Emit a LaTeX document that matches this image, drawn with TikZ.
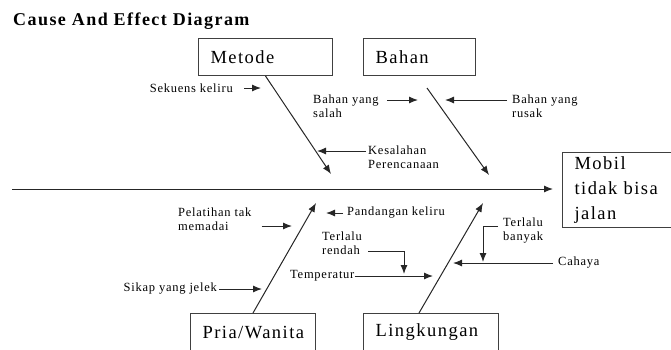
\documentclass[tikz,border=0pt]{standalone}
\usepackage{fontspec}
\setmainfont{Liberation Serif}
\newfontfamily\labfont[LetterSpace=6]{Liberation Serif}
\newfontfamily\catfont[LetterSpace=8]{Liberation Serif}
\newfontfamily\titlefont[LetterSpace=8]{Liberation Serif}
\usetikzlibrary{arrows.meta,positioning}
\tikzset{
  bone/.style={draw=black!80, line width=0.8pt},
  arr/.style={-{Latex[length=9pt,width=7pt]}, draw=black!85, line width=1pt},
  lab/.style={font=\labfont\fontsize{12.5}{14}\selectfont, inner sep=2pt,
              align=left},
  cat/.style={draw=black!75, line width=1pt, anchor=north west, align=left,
              inner xsep=12pt, font=\catfont\fontsize{18.5}{25}\selectfont},
}

\begin{document}
\begin{tikzpicture}[x=1pt,y=-1pt]

\clip (0,0) rectangle (671,349);

\node[font=\titlefont\bfseries\fontsize{18}{20}\selectfont, anchor=base west,
      inner sep=0pt] (title) at (13,25) {Cause And Effect Diagram};

% category boxes
\node[cat, text width=110pt, minimum height=37pt] (metode) at (198,38) {Metode};
\node[cat, text width=88pt, minimum height=37pt] (bahan) at (363,38) {Bahan};
\node[cat, text width=86pt, minimum height=75pt] (mobil) at (562,152)
  {Mobil\\tidak bisa\\jalan};
\node[cat, text width=101pt, minimum height=38pt] (pria) at (190,313)
  {Pria/Wanita};
\node[cat, text width=111pt, minimum height=38pt] (lingk) at (363,313)
  {Lingkungan};

% spine and bones
\coordinate (tail) at (12,189);
\draw[arr] (tail) -- ([xshift=-9pt]mobil.west |- tail);

\coordinate (metodeT) at (331,174);
\draw[arr] (metode.south) -- (metodeT);
\coordinate (bahanS) at (427,88);
\coordinate (bahanT) at (489,175);
\draw[arr] (bahanS) -- (bahanT);
\coordinate (priaT) at (316,203);
\draw[arr] (pria.north) -- (priaT);
\coordinate (lingkT) at (483,203);
\draw[arr] ([xshift=-12pt]lingk.north) -- (lingkT);

% Metode
\node[lab, anchor=east] (sekuens) at (235,88) {Sekuens keliru};
\coordinate (sekuensT) at (261,88);
\draw[arr] ([xshift=9pt]sekuens.east) -- (sekuensT);

\node[lab, anchor=north west] (kesalahan) at (366,144) {Kesalahan\\Perencanaan};
\coordinate (kesalahanT) at (317,151);
\draw[arr] ([shift={(0,7)}]kesalahan.north west) -- (kesalahanT);

% Bahan
\node[lab, anchor=north west] (salah) at (311,93) {Bahan yang\\salah};
\coordinate (salahT) at (418,100);
\draw[arr] ([shift={(6,7)}]salah.north east) -- (salahT);

\node[lab, anchor=north west] (rusak) at (510,93) {Bahan yang\\rusak};
\coordinate (rusakT) at (445,100);
\draw[arr] ([shift={(-3,7)}]rusak.north west) -- (rusakT);

% Pria/Wanita
\node[lab, anchor=north west] (pelatihan) at (176,206) {Pelatihan tak\\memadai};
\coordinate (pelatihanT) at (292,226);
\draw[arr] ([shift={(8,20)}]pelatihan.north east) -- (pelatihanT);

\node[lab, anchor=west] (pandangan) at (345,213) {Pandangan keliru};
\coordinate (pandanganT) at (326,213);
\draw[arr] ([xshift=-2pt]pandangan.west) -- (pandanganT);

\node[lab, anchor=east] (sikap) at (219,289) {Sikap yang jelek};
\coordinate (sikapT) at (262,289);
\draw[arr] (sikap.east) -- (sikapT);

% Lingkungan
\node[lab, anchor=west, inner sep=0pt] (temperatur) at (290,276) {Temperatur};
\coordinate (temperaturT) at (433,276);
\draw[arr] (temperatur.east) -- (temperaturT);

\node[lab, anchor=north west] (rendah) at (320,230) {Terlalu\\rendah};
\coordinate (rendahT) at (404,274);
\draw[arr] ([shift={(4,21)}]rendah.north east) -| (rendahT);

\node[lab, anchor=west] (cahaya) at (556,263) {Cahaya};
\coordinate (cahayaT) at (453,263);
\draw[arr] ([xshift=-3pt]cahaya.west) -- (cahayaT);

\node[lab, anchor=north west] (banyak) at (501,216) {Terlalu\\banyak};
\coordinate (banyakT) at (483,262);
\draw[arr] ([shift={(-3,10)}]banyak.north west) -| (banyakT);

\end{tikzpicture}
\end{document}
